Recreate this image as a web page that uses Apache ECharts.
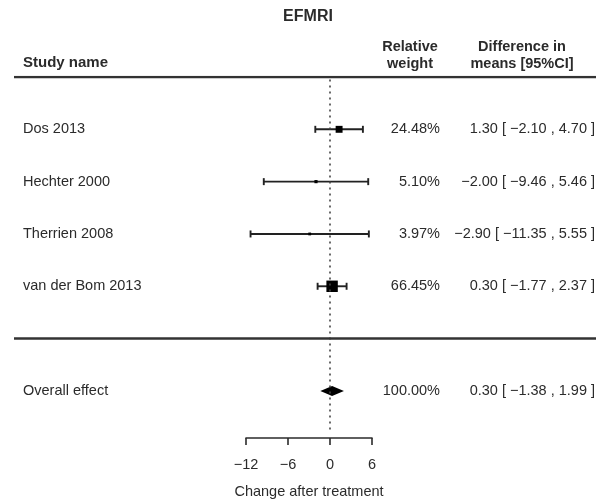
<!DOCTYPE html>
<html>
<head>
<meta charset="utf-8">
<script src="https://cdn.jsdelivr.net/npm/echarts@6/dist/echarts.min.js"></script>
<style>
  html, body { margin: 0; padding: 0; background: #fff; }
  #chart { width: 596px; height: 500px; }
</style>
</head>
<body>
<div id="chart"></div>
<script>
// study rows
const studies = ['Dos 2013', 'Hechter 2000', 'Therrien 2008', 'van der Bom 2013'];
const means = [1.30, -2.00, -2.90, 0.30];
const lower = [-2.10, -9.46, -11.35, -1.77];
const upper = [4.70, 5.46, 5.55, 2.37];
const weights = [24.48, 5.10, 3.97, 66.45];

// pooled estimate
const overallName = 'Overall effect';
const overallMean = 0.30;
const overallLower = -1.38;
const overallUpper = 1.99;
const overallWeight = 100.00;

const xTicks = [-12, -6, 0, 6];

const FONT = 'Liberation Sans, Arial, sans-serif';
const INK = '#2b2b2b';

function num(v) {
  return (v < 0 ? '\u2212' : '') + Math.abs(v).toFixed(2);
}
function ciText(m, l, u) {
  return num(m) + ' [ ' + num(l) + ' , ' + num(u) + ' ]';
}

// row index: studies 0..3, separator 4, overall 5
const rowIdx = studies.map((s, i) => i);
const overallIdx = 5;
const sepIdx = 4;

const forestData = studies.map((s, i) => [rowIdx[i], means[i], lower[i], upper[i], weights[i]]);

const textRows = studies.map((s, i) => ({
  idx: rowIdx[i], name: s, w: weights[i].toFixed(2) + '%', ci: ciText(means[i], lower[i], upper[i])
}));
textRows.push({
  idx: overallIdx, name: overallName, w: overallWeight.toFixed(2) + '%',
  ci: ciText(overallMean, overallLower, overallUpper)
});

const chart = echarts.init(document.getElementById('chart'));

const yCommon = {
  type: 'value', min: -1, max: 5.9, inverse: true, show: false
};

const option = {
  animation: false,
  grid: [
    { left: 246, width: 126, top: 77, height: 361, containLabel: false, outerBoundsMode: 'none' },
    { left: 0, right: 0, top: 77, height: 361, containLabel: false, outerBoundsMode: 'none' }
  ],
  xAxis: [
    {
      gridIndex: 0, type: 'value', min: xTicks[0], max: xTicks[xTicks.length - 1], interval: 6,
      axisLine: { show: true, onZero: false, lineStyle: { color: INK, width: 1.6 } },
      axisTick: { show: true, length: 7, lineStyle: { color: INK, width: 1.6 } },
      axisLabel: {
        margin: 19, fontFamily: FONT, fontSize: 14.5, color: INK,
        formatter: v => (v < 0 ? '\u2212' + Math.abs(v) : String(v))
      },
      splitLine: { show: false },
      name: 'Change after treatment', nameLocation: 'middle', nameGap: 46,
      nameTextStyle: { fontFamily: FONT, fontSize: 14.5, color: INK }
    },
    { gridIndex: 1, type: 'value', min: 0, max: 596, show: false }
  ],
  yAxis: [
    Object.assign({ gridIndex: 0 }, yCommon),
    Object.assign({ gridIndex: 1 }, yCommon)
  ],
  graphic: [
    { type: 'text', x: 308, y: 17, style: { text: 'EFMRI', font: 'bold 16px ' + FONT, fill: INK, align: 'center', verticalAlign: 'middle' } },
    { type: 'text', x: 23, y: 63, style: { text: 'Study name', font: 'bold 15px ' + FONT, fill: INK, verticalAlign: 'middle' } },
    { type: 'text', x: 410, y: 38, style: { text: 'Relative\nweight', font: 'bold 14.5px ' + FONT, fill: INK, align: 'center', lineHeight: 17 } },
    { type: 'text', x: 522, y: 38, style: { text: 'Difference in\nmeans [95%CI]', font: 'bold 14.5px ' + FONT, fill: INK, align: 'center', lineHeight: 17 } }
  ],
  series: [
    {
      // reference line at zero
      type: 'line', xAxisIndex: 0, yAxisIndex: 0, symbol: 'none', silent: true,
      data: [[0, -0.95], [0, 5.75]],
      lineStyle: { color: '#444', width: 1.6, type: [2, 4] }
    },
    {
      // horizontal rules
      type: 'line', xAxisIndex: 1, yAxisIndex: 1, symbol: 'none', silent: true,
      data: [[14, -1], [596, -1]],
      lineStyle: { color: '#333', width: 2.5 }
    },
    {
      type: 'line', xAxisIndex: 1, yAxisIndex: 1, symbol: 'none', silent: true,
      data: [[14, sepIdx], [596, sepIdx]],
      lineStyle: { color: '#333', width: 2.5 }
    },
    {
      // study estimates with CI
      type: 'custom', xAxisIndex: 0, yAxisIndex: 0,
      data: forestData,
      encode: { x: [1, 2, 3], y: 0 },
      renderItem: function (params, api) {
        const y = api.coord([0, api.value(0)])[1];
        const cx = api.coord([api.value(1), 0])[0];
        const x0 = api.coord([api.value(2), 0])[0];
        const x1 = api.coord([api.value(3), 0])[0];
        const s = 1.4 * Math.sqrt(api.value(4));
        const st = { stroke: '#222', lineWidth: 1.9 };
        return {
          type: 'group',
          children: [
            { type: 'line', shape: { x1: x0, y1: y, x2: x1, y2: y }, style: st },
            { type: 'line', shape: { x1: x0, y1: y - 3.5, x2: x0, y2: y + 3.5 }, style: st },
            { type: 'line', shape: { x1: x1, y1: y - 3.5, x2: x1, y2: y + 3.5 }, style: st },
            { type: 'rect', shape: { x: cx - s / 2, y: y - s / 2, width: s, height: s }, style: { fill: '#000' } }
          ]
        };
      }
    },
    {
      // pooled diamond
      type: 'custom', xAxisIndex: 0, yAxisIndex: 0,
      data: [[overallIdx, overallMean, overallLower, overallUpper]],
      encode: { x: [1, 2, 3], y: 0 },
      renderItem: function (params, api) {
        const y = api.coord([0, api.value(0)])[1];
        const cx = api.coord([api.value(1), 0])[0];
        const x0 = api.coord([api.value(2), 0])[0];
        const x1 = api.coord([api.value(3), 0])[0];
        return {
          type: 'polygon',
          shape: { points: [[x0, y], [cx, y - 5], [x1, y], [cx, y + 5]] },
          style: { fill: '#000' }
        };
      }
    },
    {
      // text columns
      type: 'custom', xAxisIndex: 1, yAxisIndex: 1,
      data: textRows.map(r => [0, r.idx]),
      renderItem: function (params, api) {
        const r = textRows[params.dataIndex];
        const y = api.coord([0, r.idx])[1];
        const f = '14.5px ' + FONT;
        return {
          type: 'group',
          children: [
            { type: 'text', x: 23, y: y, style: { text: r.name, font: f, fill: INK, align: 'left', verticalAlign: 'middle' } },
            { type: 'text', x: 440, y: y, style: { text: r.w, font: f, fill: INK, align: 'right', verticalAlign: 'middle' } },
            { type: 'text', x: 595, y: y, style: { text: r.ci, font: f, fill: INK, align: 'right', verticalAlign: 'middle' } }
          ]
        };
      }
    }
  ]
};

chart.setOption(option);
</script>
</body>
</html>
